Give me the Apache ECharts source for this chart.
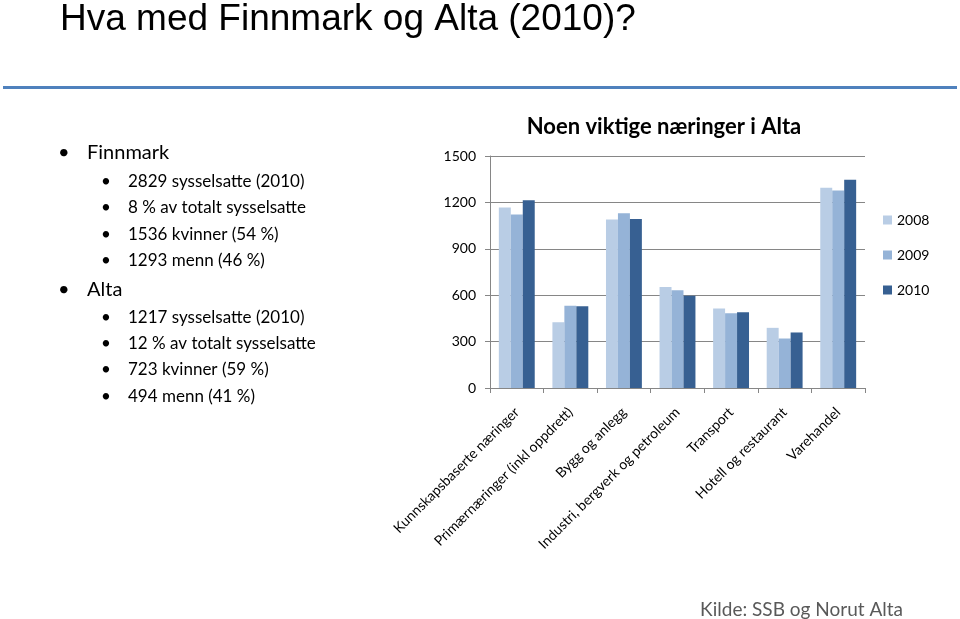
<!DOCTYPE html>
<html><head><meta charset="utf-8">
<script src="https://cdn.jsdelivr.net/npm/echarts@6/dist/echarts.min.js"></script>
<style>html,body{margin:0;padding:0;background:#fff}#c{width:960px;height:619px}</style>
</head><body><div id="c"></div>
<script>
const categories = ['Kunnskapsbaserte næringer','Primærnæringer (inkl oppdrett)','Bygg og anlegg','Industri, bergverk og petroleum','Transport','Hotell og restaurant','Varehandel'];
const y2008 = [1167, 425, 1090, 653, 514, 389, 1294];
const y2009 = [1122, 531, 1130, 632, 484, 320, 1277];
const y2010 = [1214, 529, 1092, 597, 490, 359, 1347];
const yTicks = [0, 300, 600, 900, 1200, 1500];
const finnmarkLines = ['2829 sysselsatte (2010)','8 % av totalt sysselsatte','1536 kvinner (54 %)','1293 menn (46 %)'];
const altaLines = ['1217 sysselsatte (2010)','12 % av totalt sysselsatte','723 kvinner (59 %)','494 menn (41 %)'];

const body = 'Lato, "Open Sans", sans-serif';
const graphics = [
  {type:'text', left:60, top:1, style:{text:'Hva med Finnmark og Alta (2010)?', font:'37px "Liberation Sans", Arial, sans-serif', fill:'#000'}},
  {type:'rect', shape:{x:3, y:86, width:954, height:3}, style:{fill:'#4F81BD'}},
  {type:'text', left:58, top:143, style:{text:'•', font:'20px '+body, fill:'#000'}},
  {type:'text', left:87, top:143, style:{text:'Finnmark', font:'20px '+body, fill:'#000'}},
  {type:'text', left:58, top:280, style:{text:'•', font:'20px '+body, fill:'#000'}},
  {type:'text', left:87, top:280, style:{text:'Alta', font:'20px '+body, fill:'#000'}},
  {type:'text', right:959-902, bottom:0, style:{text:'Kilde: SSB og Norut Alta', font:'19px '+body, fill:'#595959'}}
];
const subY1 = [183, 209, 236, 262], subY2 = [319, 345, 371, 398];
finnmarkLines.forEach((t,i)=>{
  graphics.push({type:'text', left:101, top:subY1[i]-10, style:{text:'•', font:'17px '+body, fill:'#000'}});
  graphics.push({type:'text', left:128, top:subY1[i]-10, style:{text:t, font:'17px '+body, fill:'#000'}});
});
altaLines.forEach((t,i)=>{
  graphics.push({type:'text', left:101, top:subY2[i]-10, style:{text:'•', font:'17px '+body, fill:'#000'}});
  graphics.push({type:'text', left:128, top:subY2[i]-10, style:{text:t, font:'17px '+body, fill:'#000'}});
});

const chart = echarts.init(document.getElementById('c'), null, {renderer:'canvas'});
const mk = (name, data, color) => ({name, type:'bar', data, barGap:'0%', barCategoryGap:'33%', itemStyle:{color}, animation:false});
chart.setOption({
  animation:false,
  title:{text:'Noen viktige næringer i Alta', left:659, top:111, textAlign:'center', textStyle:{fontFamily:body, fontSize:22, fontWeight:'bold', color:'#000'}},
  graphic: graphics,
  legend:{orient:'vertical', left:878, top:208, itemWidth:9, itemHeight:9, itemGap:21, icon:'rect', textStyle:{fontFamily:body, fontSize:14, color:'#000'}, data:['2008','2009','2010']},
  grid:{left:490, right:95, top:156, bottom:231, containLabel:false},
  xAxis:{type:'category', data:categories, axisLine:{lineStyle:{color:'#868686'}}, axisTick:{show:true, length:5, lineStyle:{color:'#868686'}}, axisLabel:{rotate:45, interval:0, fontFamily:body, fontSize:14, color:'#000', margin:22}},
  yAxis:{type:'value', min:0, max:1500, interval:300, axisLine:{show:true, lineStyle:{color:'#868686'}}, axisTick:{show:true, length:5, lineStyle:{color:'#868686'}}, splitLine:{lineStyle:{color:'#868686'}}, axisLabel:{formatter:v=>String(v), fontFamily:body, fontSize:14, color:'#000', margin:14}},
  series:[mk('2008', y2008, '#B9CDE5'), mk('2009', y2009, '#95B3D7'), mk('2010', y2010, '#376092')]
});
</script></body></html>
